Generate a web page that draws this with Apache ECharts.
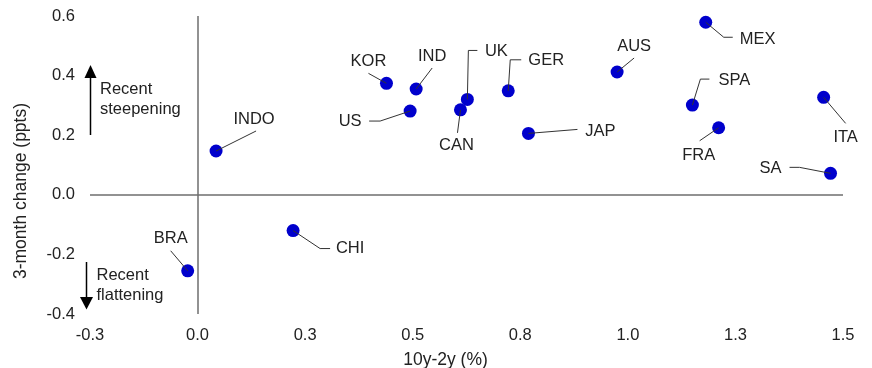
<!DOCTYPE html>
<html>
<head>
<meta charset="utf-8">
<script src="https://cdn.jsdelivr.net/npm/echarts@6/dist/echarts.min.js"></script>
<style>html,body{margin:0;padding:0;background:#fff}#c{width:872px;height:368px}</style>
</head>
<body>
<div id="c"></div>
<script>
// ---- data ----
const countries = ['INDO','BRA','CHI','KOR','IND','US','CAN','UK','GER','JAP','AUS','MEX','SPA','FRA','ITA','SA'];
const curve10y2y = [0.043,-0.023,0.222,0.439,0.508,0.494,0.611,0.627,0.722,0.769,0.975,1.181,1.150,1.211,1.455,1.471];
const change3m  = [0.147,-0.255,-0.120,0.374,0.355,0.281,0.285,0.320,0.349,0.206,0.412,0.579,0.301,0.225,0.327,0.072];
const xTicks = {min:-0.25, max:1.5, interval:0.25};
const yTicks = {min:-0.4, max:0.6, interval:0.2};

// ---- label placement (pixel offsets relative to each point) ----
const guides = {
  INDO:{label:[38,-32], path:[[40,-20]]},
  BRA:{label:[-17,-32], path:[[-17,-20]]},
  CHI:{label:[57,18], path:[[27,18],[37,18]]},
  KOR:{label:[-18,-22], path:[[-18,-10]]},
  IND:{label:[16,-33], path:[[16,-21]]},
  US:{label:[-60,10], path:[[-30,10],[-41,10]]},
  CAN:{label:[-4,36], path:[[-3,23]]},
  UK:{label:[29,-48], path:[[1,-49],[10,-49]]},
  GER:{label:[38,-30], path:[[2,-31],[13,-31]]},
  JAP:{label:[72,-2], path:[[49,-4]]},
  AUS:{label:[17,-26], path:[[17,-14]]},
  MEX:{label:[52,17], path:[[18,15],[27,15]]},
  SPA:{label:[42,-25], path:[[8,-26],[17,-26]]},
  FRA:{label:[-20,28], path:[[-19,13]]},
  ITA:{label:[22,40], path:[[22,26]]},
  SA:{label:[-60,-5], path:[[-31,-6],[-41,-6]]}
};

const FONT = "'Liberation Sans', Arial, sans-serif";
const TXT = '#222';
const pts = countries.map((n,i)=>[curve10y2y[i], change3m[i]]);

const chart = echarts.init(document.getElementById('c'), null, {renderer:'canvas'});
chart.setOption({
  animation:false,
  backgroundColor:'#fff',
  grid:{left:90, right:29, top:16, bottom:54, containLabel:false, outerBoundsMode:'none'},
  xAxis:{
    type:'value', min:xTicks.min, max:xTicks.max, interval:xTicks.interval,
    axisLine:{show:false}, axisTick:{show:false}, splitLine:{show:false},
    axisLabel:{margin:13, color:TXT, fontSize:16.5, fontFamily:FONT, formatter:v=>v.toFixed(1)},
    name:'10y-2y (%)', nameLocation:'middle', nameGap:37,
    nameTextStyle:{color:TXT, fontSize:17.5, fontFamily:FONT, padding:[0,42,0,0]}
  },
  yAxis:{
    type:'value', min:yTicks.min, max:yTicks.max, interval:yTicks.interval,
    axisLine:{show:false}, axisTick:{show:false}, splitLine:{show:false},
    axisLabel:{margin:15, color:TXT, fontSize:16.5, fontFamily:FONT, formatter:v=>v.toFixed(1)},
    name:'3-month change (ppts)', nameLocation:'middle', nameGap:60,
    nameTextStyle:{color:TXT, fontSize:17.5, fontFamily:FONT, padding:[0,52,0,0]}
  },
  series:[
    {
      type:'scatter', data:pts, symbolSize:13, z:2,
      itemStyle:{color:'#0000cc', opacity:1},
      markLine:{
        silent:true, symbol:'none', label:{show:false},
        lineStyle:{color:'#6e6e6e', width:1.5, type:'solid'},
        data:[{xAxis:0},{yAxis:0}]
      }
    },
    {
      type:'custom', data:pts, z:3, clip:false, silent:true,
      renderItem:function(params, api){
        const name = countries[params.dataIndex];
        const g = guides[name];
        const p = api.coord([api.value(0), api.value(1)]);
        const line = [p].concat(g.path.map(q=>[p[0]+q[0], p[1]+q[1]]));
        return {type:'group', children:[
          {type:'polyline', shape:{points:line}, style:{stroke:'#333', lineWidth:1, fill:null}},
          {type:'text', x:p[0]+g.label[0], y:p[1]+g.label[1],
           style:{text:name, align:'center', verticalAlign:'middle', fill:TXT, font:'16.5px '+FONT}}
        ]};
      }
    }
  ],
  graphic:[
    {type:'line', shape:{x1:90.5, y1:135, x2:90.5, y2:77}, style:{stroke:'#000', lineWidth:1.5}},
    {type:'polygon', shape:{points:[[90.5,65],[84.5,78],[96.5,78]]}, style:{fill:'#000'}},
    {type:'text', x:100, y:99, style:{text:'Recent\nsteepening', align:'left', verticalAlign:'middle', lineHeight:20, fill:TXT, font:'16.5px '+FONT}},
    {type:'line', shape:{x1:86.5, y1:262, x2:86.5, y2:298}, style:{stroke:'#000', lineWidth:1.5}},
    {type:'polygon', shape:{points:[[86.5,309.5],[80,297],[93,297]]}, style:{fill:'#000'}},
    {type:'text', x:96.5, y:285, style:{text:'Recent\nflattening', align:'left', verticalAlign:'middle', lineHeight:20, fill:TXT, font:'16.5px '+FONT}}
  ]
});
</script>
</body>
</html>
